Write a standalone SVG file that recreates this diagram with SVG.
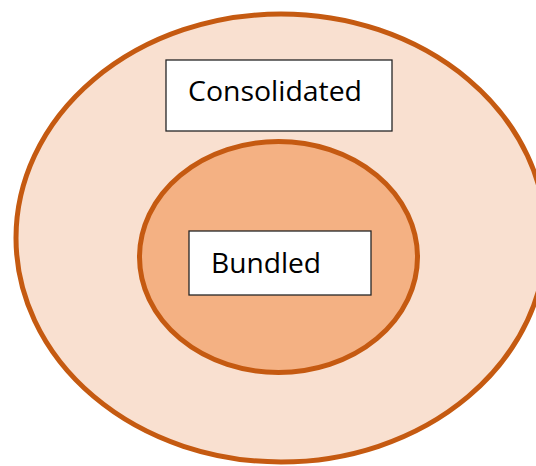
<svg xmlns="http://www.w3.org/2000/svg" width="536" height="466" viewBox="0 0 536 466">
<style>
.ring{stroke:#C55A11;stroke-width:5}
.box{fill:#FFFFFF;stroke:#262626;stroke-width:1.3}
.lbl{font-family:"Open Sans","Noto Sans","Liberation Sans",sans-serif;font-size:28px;fill:#000000}
</style>
<rect width="536" height="466" fill="#FFFFFF"/>
<g id="outer">
<ellipse class="ring" cx="281" cy="238" rx="265" ry="224" fill="#F9E0D0"/>
</g>
<g id="inner">
<ellipse class="ring" cx="278.5" cy="257" rx="139" ry="115.5" fill="#F4B183"/>
</g>
<g id="consolidated">
<rect class="box" x="166" y="60" width="226" height="71"/>
<text class="lbl" x="188" y="101" textLength="174" lengthAdjust="spacingAndGlyphs">Consolidated</text>
</g>
<g id="bundled">
<rect class="box" x="189" y="231" width="182" height="64"/>
<text class="lbl" x="211" y="273" textLength="110" lengthAdjust="spacingAndGlyphs">Bundled</text>
</g>
<g id="connectors"></g>
</svg>
